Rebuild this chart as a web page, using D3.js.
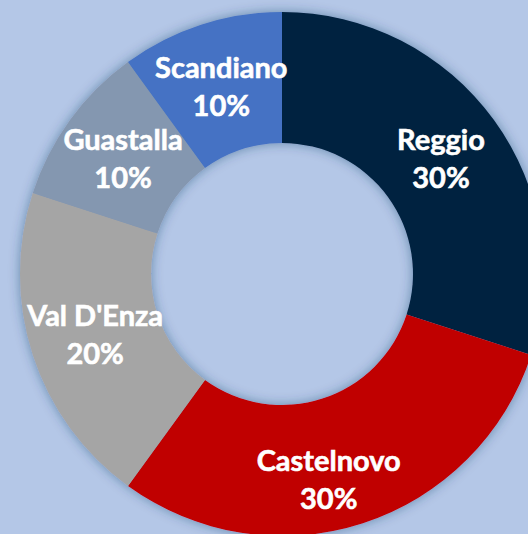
<!DOCTYPE html>
<html><head><meta charset="utf-8">
<script src="https://cdn.jsdelivr.net/npm/d3@7"></script>
<style>html,body{margin:0;padding:0;background:#b4c7e7;overflow:hidden}</style>
</head><body>
<svg id="c" width="528" height="534"></svg>
<script>
const categories = ["Reggio", "Castelnovo", "Val D'Enza", "Guastalla", "Scandiano"];
const values = [30, 30, 20, 10, 10];
const labels = ["30%", "30%", "20%", "10%", "10%"];
const colors = ["#00203f", "#c00000", "#a5a5a5", "#8497b0", "#4472c4"];
// per-label nudges (Castelnovo label sits lower-left in the original)
const labelShiftX = [0, -14, 0, 0, 0];
const labelShiftY = [0, 19, 0, 0, 0];

const W = 528, H = 534, cx = 282, cy = 274, R = 262, r0 = 131;
const svg = d3.select("#c");
svg.append("rect").attr("width", W).attr("height", H).attr("fill", "#b4c7e7");
const defs = svg.append("defs");
const f = defs.append("filter").attr("id","glow").attr("x","-20%").attr("y","-20%").attr("width","140%").attr("height","140%");
f.append("feDropShadow").attr("dx",0).attr("dy",0).attr("stdDeviation",6).attr("flood-color","#1f3864").attr("flood-opacity",0.45);

const data = categories.map((c,i)=>({name:c, value:values[i], label:labels[i], color:colors[i], i}));
const pie = d3.pie().value(d=>d.value).sort(null);
const arc = d3.arc().innerRadius(r0).outerRadius(R);
const arcs = pie(data);
const g = svg.append("g").attr("transform", `translate(${cx},${cy})`);
g.append("g").attr("filter","url(#glow)").selectAll("path").data(arcs).join("path")
  .attr("d", arc).attr("fill", d=>d.data.color);

const lab = g.selectAll("text.l").data(arcs).join("text").attr("class","l")
  .attr("transform", d=>{const [x,y]=arc.centroid(d); return `translate(${x+labelShiftX[d.data.i]},${y+labelShiftY[d.data.i]})`;})
  .attr("text-anchor","middle")
  .attr("font-family","Lato, 'Open Sans', sans-serif").attr("font-weight","bold").attr("font-size",29)
  .attr("fill","#ffffff").attr("stroke","#ffffff").attr("stroke-width",0.6);
lab.append("tspan").attr("x",0).attr("dy","-0.3em").text(d=>d.data.name);
lab.append("tspan").attr("x",0).attr("dy","1.31em").text(d=>d.data.label);
</script>
</body></html>
